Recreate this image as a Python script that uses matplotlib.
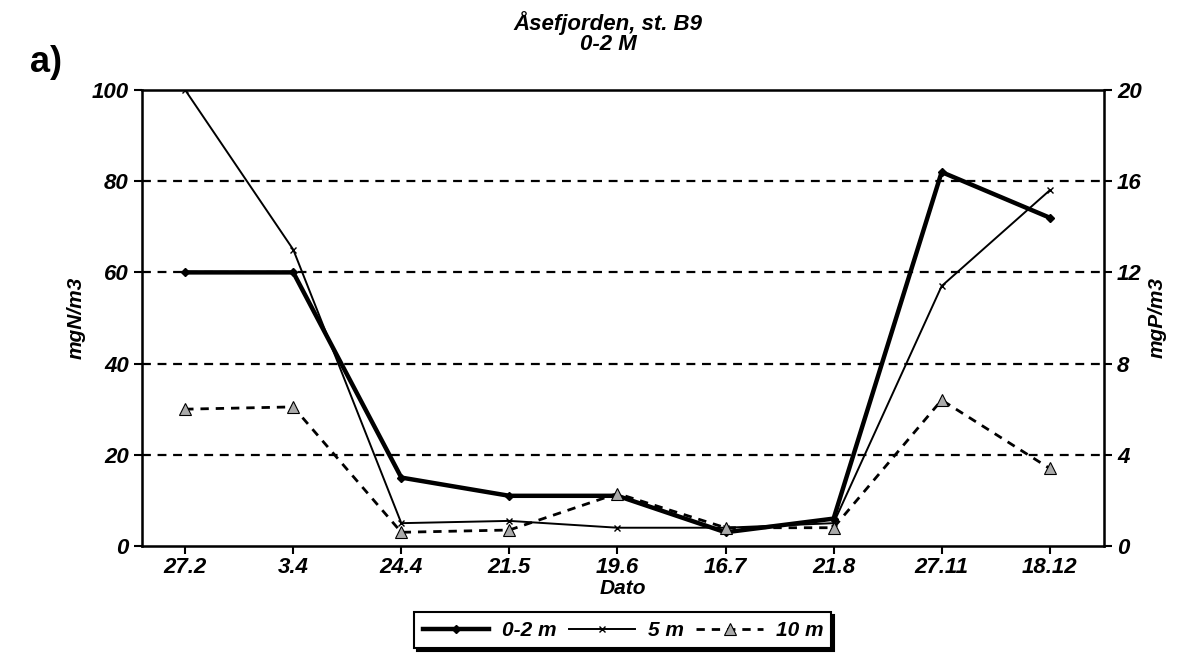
import matplotlib.pyplot as plt

plt.rcParams['font.family'] = ['Liberation Sans', 'DejaVu Sans']

dates = ["27.2", "3.4", "24.4", "21.5", "19.6", "16.7", "21.8", "27.11", "18.12"]
m0_2 = [60, 60, 15, 11, 11, 3, 6, 82, 72]
m5 = [100, 65, 5, 5.5, 4, 4, 5, 57, 78]
m10 = [30, 30.5, 3, 3.5, 11.5, 4, 4, 32, 17]

x = list(range(len(dates)))

fig = plt.figure(figsize=(11.83, 6.57), dpi=100)
ax = fig.add_axes([0.120, 0.169, 0.813, 0.694])

for yv in [20, 40, 60, 80]:
    ax.axhline(yv, color="black", lw=1.6, ls=(0, (4, 3)), zorder=1)

ax.plot(x, m0_2, color="black", lw=3.2, marker="D", ms=4, mfc="black", label="0-2 m", zorder=3)
ax.plot(x, m5, color="black", lw=1.4, marker="x", ms=5, mew=1, label="5 m", zorder=3)
ax.plot(x, m10, color="black", lw=2, ls=(0, (3, 2.5)), marker="^", ms=8, mfc="#aaaaaa",
        mec="black", mew=0.8, label="10 m", zorder=3)

ax.set_xlim(-0.4, 8.5)
ax.set_ylim(0, 100)
ax.set_xticks(x)
ax.set_xticklabels(dates)
ax.set_yticks([0, 20, 40, 60, 80, 100])
for s in ax.spines.values():
    s.set_linewidth(1.8)
ax.tick_params(axis="both", direction="out", length=6, width=1.5, labelsize=16)
ax.tick_params(axis="x", pad=2)
for lab in ax.get_xticklabels() + ax.get_yticklabels():
    lab.set_fontstyle("italic")
    lab.set_fontweight("bold")

ax.set_ylabel("mgN/m3", fontsize=15, fontstyle="italic", fontweight="bold")
ax.set_xlabel("Dato", fontsize=15, fontstyle="italic", fontweight="bold", labelpad=1)

ax2 = ax.twinx()
ax2.set_ylim(0, 20)
ax2.set_yticks([0, 4, 8, 12, 16, 20])
ax2.tick_params(axis="y", direction="out", length=6, width=1.5, labelsize=16)
for lab in ax2.get_yticklabels():
    lab.set_fontstyle("italic")
    lab.set_fontweight("bold")
ax2.set_ylabel("mgP/m3", fontsize=15, fontstyle="italic", fontweight="bold")

fig.text(0.514, 0.95, "Åsefjorden, st. B9\n0-2 M", ha="center", va="center",
         fontsize=16, fontstyle="italic", fontweight="bold", linespacing=0.9)
fig.text(0.025, 0.905, "a)", fontsize=26, fontweight="bold", va="center")

leg = ax.legend(loc="center", bbox_to_anchor=(0.5, -0.185), ncol=3, frameon=True,
                fancybox=False, shadow={"color": "black", "alpha": 1},
                prop={"size": 15, "style": "italic", "weight": "bold"},
                handlelength=3.2, columnspacing=0.6, handletextpad=0.6,
                borderpad=0.4)
leg.get_frame().set_edgecolor("black")
leg.get_frame().set_linewidth(1.5)

fig.savefig("out.png", dpi=100)
